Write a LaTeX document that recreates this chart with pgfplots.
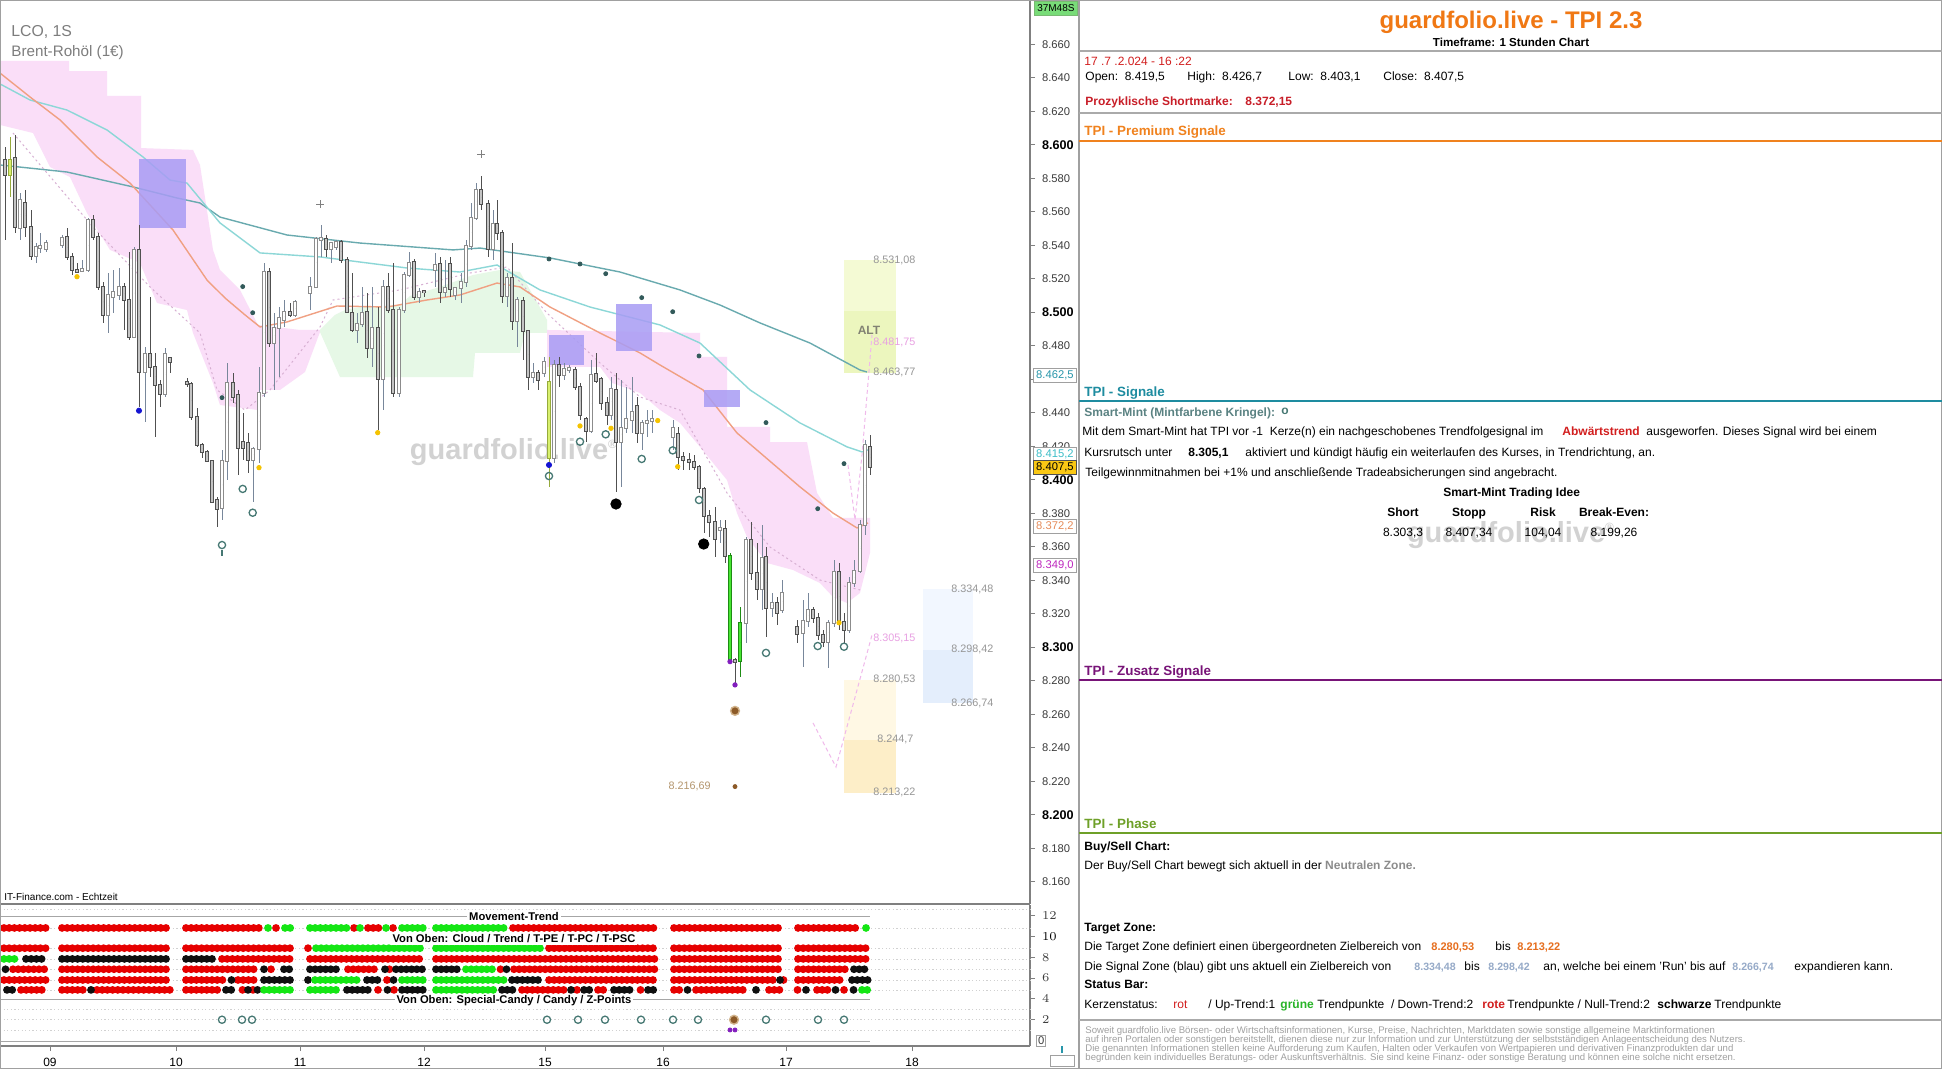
\documentclass[border=0pt]{standalone}
\usepackage{fontspec}
\setmainfont{Liberation Sans}
\usepackage{pgfplots}
\usepackage{pgfplotstable}
\pgfplotsset{compat=1.18}

\newcommand{\fsz}[1]{\fontsize{#1}{#1}\selectfont}

% colours
\definecolor{axisgray}{RGB}{128,128,128}
\definecolor{framegray}{RGB}{160,160,160}
\definecolor{ticktext}{RGB}{60,60,60}
\definecolor{cloudpink}{RGB}{250,222,248}
\definecolor{cloudgreen}{RGB}{230,248,230}
\definecolor{maorange}{RGB}{240,160,130}
\definecolor{slowteal}{RGB}{105,170,175}
\definecolor{fastcyan}{RGB}{140,215,215}
\definecolor{dotpink}{RGB}{215,175,210}
\definecolor{projpink}{RGB}{240,185,235}
\definecolor{boxpurple}{RGB}{168,156,244}
\definecolor{altyellow}{RGB}{244,250,212}
\definecolor{altyellow2}{RGB}{236,246,190}
\definecolor{tzcream}{RGB}{255,248,228}
\definecolor{tzcream2}{RGB}{253,238,200}
\definecolor{szblue}{RGB}{242,247,255}
\definecolor{szblue2}{RGB}{228,238,252}
\definecolor{bearfill}{RGB}{196,196,196}
\definecolor{bearline}{RGB}{80,80,80}
\definecolor{bullline}{RGB}{140,140,140}
\definecolor{bullwick}{RGB}{120,135,155}
\definecolor{ygfill}{RGB}{216,240,110}
\definecolor{ygline}{RGB}{150,170,60}
\definecolor{grfill}{RGB}{70,230,50}
\definecolor{grline}{RGB}{30,140,20}
\definecolor{mint}{RGB}{70,120,115}
\definecolor{mintdot}{RGB}{50,90,90}
\definecolor{signyellow}{RGB}{245,195,0}
\definecolor{signblue}{RGB}{20,20,210}
\definecolor{zbrown}{RGB}{140,90,40}
\definecolor{zbrownhalo}{RGB}{210,180,140}
\definecolor{zpurple}{RGB}{130,30,190}
\definecolor{rowred}{RGB}{230,0,0}
\definecolor{rowgreen}{RGB}{20,230,20}
\definecolor{rowblack}{RGB}{15,15,15}
\definecolor{lblgray}{RGB}{150,150,150}
\definecolor{lblpink}{RGB}{232,160,226}
\definecolor{lblbrown}{RGB}{180,150,110}
\definecolor{altgray}{RGB}{130,130,115}
\definecolor{wm}{RGB}{210,210,210}
\definecolor{lcogray}{RGB}{125,125,125}
\definecolor{tagteal}{RGB}{40,150,170}
\definecolor{tagcyan}{RGB}{60,190,200}
\definecolor{tagyellow}{RGB}{250,200,20}
\definecolor{tagorange}{RGB}{230,140,90}
\definecolor{tagmagenta}{RGB}{190,40,190}
\definecolor{taggreen}{RGB}{120,220,120}
\definecolor{titleorange}{RGB}{240,120,20}
\definecolor{datered}{RGB}{210,30,30}
\definecolor{shortred}{RGB}{200,30,40}
\definecolor{premorange}{RGB}{240,130,30}
\definecolor{sigteal}{RGB}{30,140,160}
\definecolor{mintlabel}{RGB}{90,130,130}
\definecolor{zuspurple}{RGB}{120,20,120}
\definecolor{phasegreen}{RGB}{110,160,40}
\definecolor{neutralgray}{RGB}{140,140,140}
\definecolor{tzorange}{RGB}{230,110,30}
\definecolor{szbluetext}{RGB}{150,170,200}
\definecolor{gruen}{RGB}{40,180,40}
\definecolor{rulegray}{RGB}{170,170,170}
\definecolor{disclaimer}{RGB}{160,160,160}

% hourly candles: x position, open, high, low, close
\pgfplotstableread{
x o h l c
5 8590.9 8598.6 8543.1 8581.9
15 8592.1 8605.8 8547.3 8550.9
25 8565.2 8573.0 8544.9 8550.9
31 8550.9 8561.0 8531.2 8533.6
67 8544.9 8550.3 8531.2 8533.0
72 8533.0 8535.4 8522.2 8525.2
77 8525.2 8529.4 8523.4 8524.0
93 8555.1 8558.0 8543.1 8544.9
98 8544.9 8547.3 8513.3 8515.1
103 8515.1 8518.0 8493.6 8498.4
124 8515.1 8517.4 8489.4 8507.3
129 8507.3 8536.0 8483.4 8485.2
139 8537.2 8552.1 8443.4 8464.3
150 8475.1 8509.1 8461.3 8467.3
155 8467.3 8475.7 8425.5 8456.6
160 8456.6 8459.5 8443.4 8451.2
170 8472.7 8473.3 8463.7 8470.3
187 8458.3 8460.7 8455.4 8457.1
191 8457.1 8458.3 8435.7 8437.4
197 8437.4 8442.8 8419.6 8420.7
202 8420.7 8421.9 8413.0 8416.6
207 8416.6 8417.8 8410.6 8411.2
212 8411.2 8411.8 8386.1 8386.7
217 8387.9 8389.7 8371.8 8382.5
233 8457.8 8463.7 8445.8 8449.4
238 8450.6 8453.6 8402.8 8418.9
243 8422.5 8439.8 8411.8 8418.9
248 8421.9 8427.9 8404.0 8411.8
269 8524.0 8526.4 8479.2 8481.6
290 8500.1 8505.5 8497.2 8498.4
326 8543.7 8546.1 8533.0 8537.8
341 8541.9 8543.1 8529.4 8531.2
347 8531.2 8533.0 8499.5 8500.1
352 8499.5 8523.4 8488.2 8489.4
367 8500.1 8511.5 8472.7 8478.6
378 8490.6 8503.1 8429.7 8460.1
388 8515.1 8523.4 8499.5 8501.3
393 8501.3 8529.4 8449.4 8451.8
414 8530.0 8531.8 8507.3 8509.1
424 8512.7 8513.3 8509.1 8512.1
440 8528.8 8533.0 8505.5 8512.1
450 8528.8 8533.0 8509.1 8513.9
481 8573.0 8581.3 8561.0 8564.6
488 8564.6 8567.0 8533.0 8537.8
497 8552.7 8567.0 8543.1 8547.3
502 8547.3 8549.1 8505.5 8509.7
512 8520.4 8541.3 8489.4 8494.8
523 8506.7 8509.1 8471.5 8488.8
528 8488.8 8489.4 8453.6 8461.3
538 8463.7 8465.5 8453.6 8459.5
559 8468.5 8473.3 8455.4 8462.5
575 8465.5 8467.3 8453.6 8455.4
580 8455.4 8457.8 8435.7 8438.6
586 8436.3 8437.4 8422.5 8429.1
596 8463.1 8475.7 8457.8 8458.9
601 8460.1 8461.3 8441.6 8445.8
607 8445.8 8449.4 8432.7 8438.6
616 8453.6 8463.7 8392.7 8422.5
637 8444.0 8449.4 8421.9 8427.9
678 8427.3 8431.5 8405.8 8413.6
683 8413.6 8416.6 8405.8 8411.8
689 8411.8 8416.0 8405.8 8410.6
694 8410.6 8414.8 8405.8 8407.6
699 8407.6 8408.8 8392.1 8395.1
704 8394.5 8395.7 8368.2 8378.4
709 8378.4 8381.9 8365.8 8374.8
715 8374.8 8383.7 8353.9 8364.6
725 8370.6 8376.0 8350.3 8354.5
735 8292.4 8293.6 8277.5 8291.2
751 8364.0 8374.8 8340.1 8344.3
757 8344.3 8362.2 8328.2 8334.8
766 8353.9 8359.8 8306.1 8323.4
777 8326.4 8330.0 8313.3 8320.4
797 8312.1 8316.3 8302.5 8307.9
813 8322.2 8324.0 8314.5 8317.5
818 8317.5 8320.4 8304.3 8307.3
823 8307.3 8310.3 8300.1 8303.1
839 8344.9 8350.3 8310.3 8315.1
844 8315.1 8320.4 8302.5 8310.3
870 8419.5 8426.7 8403.1 8407.5
}\bear

\pgfplotstableread{
x o h l c
20 8550.3 8571.2 8543.1 8567.0
36 8533.6 8541.3 8529.4 8538.9
40 8538.3 8547.3 8535.4 8539.5
46 8537.8 8543.1 8536.0 8541.3
62 8540.1 8546.1 8538.3 8544.3
82 8524.6 8531.2 8524.0 8525.8
88 8525.2 8556.3 8524.0 8555.1
108 8498.4 8523.4 8487.6 8510.3
113 8509.1 8525.2 8499.5 8512.1
119 8510.3 8526.4 8507.3 8515.1
134 8485.2 8538.9 8484.6 8537.2
145 8464.3 8479.2 8434.5 8475.1
165 8451.2 8478.6 8449.4 8475.1
222 8383.1 8417.8 8376.0 8411.2
227 8411.2 8469.7 8399.8 8457.8
253 8411.8 8419.6 8386.7 8418.4
259 8418.4 8467.3 8410.0 8451.8
264 8451.8 8529.4 8449.4 8524.0
274 8481.6 8499.5 8453.6 8490.6
279 8490.6 8503.1 8461.3 8496.6
284 8495.4 8507.3 8491.2 8500.1
295 8498.4 8507.3 8497.2 8506.1
310 8511.5 8521.0 8501.3 8515.1
316 8515.1 8544.9 8514.5 8543.7
321 8543.1 8552.1 8533.0 8544.3
331 8537.8 8541.9 8529.4 8541.3
336 8538.9 8543.1 8537.2 8541.9
357 8489.4 8499.5 8481.6 8493.0
362 8493.0 8515.1 8491.2 8499.5
372 8478.6 8515.1 8467.3 8490.6
383 8460.1 8519.2 8441.6 8515.1
399 8451.8 8503.1 8449.4 8501.3
404 8501.3 8524.0 8499.5 8522.2
409 8522.2 8535.9 8521.0 8529.4
419 8509.1 8514.5 8505.5 8512.1
435 8525.2 8535.4 8515.1 8528.2
445 8512.1 8531.2 8509.1 8514.5
455 8510.3 8515.1 8507.3 8514.5
461 8514.5 8523.4 8505.5 8518.0
466 8518.0 8543.1 8515.1 8539.5
471 8539.5 8565.2 8537.2 8556.3
476 8556.3 8577.1 8555.1 8573.0
493 8537.8 8561.0 8531.2 8552.7
507 8509.7 8523.4 8503.1 8520.4
517 8494.8 8509.1 8479.2 8507.3
533 8461.3 8469.7 8457.8 8463.7
544 8463.7 8473.3 8461.3 8470.3
554 8413.0 8471.5 8410.0 8468.5
564 8462.5 8469.7 8459.5 8466.1
569 8465.5 8468.5 8463.7 8466.7
591 8429.1 8471.5 8427.9 8462.5
611 8438.6 8461.3 8435.7 8454.2
621 8422.5 8459.5 8395.7 8430.9
626 8430.9 8455.4 8427.9 8436.3
632 8435.7 8461.3 8427.9 8440.4
642 8427.9 8435.7 8417.8 8433.9
647 8433.9 8441.6 8425.5 8435.1
652 8435.1 8441.6 8427.9 8436.3
673 8425.5 8435.7 8417.8 8430.9
720 8370.0 8376.0 8362.2 8371.2
746 8314.5 8365.8 8302.5 8364.0
762 8334.8 8373.0 8322.2 8353.3
772 8323.4 8332.4 8318.0 8326.4
782 8322.2 8340.1 8320.4 8332.4
803 8308.5 8328.2 8288.2 8315.7
808 8315.7 8332.4 8312.1 8322.2
828 8303.1 8316.3 8287.6 8314.5
834 8314.5 8352.1 8312.1 8344.9
849 8310.3 8341.9 8308.5 8338.3
854 8338.3 8352.1 8336.0 8345.5
860 8345.5 8376.0 8344.3 8373.0
865 8373.0 8423.7 8367.0 8420.7
}\bull

\pgfplotstableread{
x o h l c
10 8581.9 8604.6 8568.8 8590.9
549 8458.3 8473.3 8395.7 8413.0
}\ygcandles

\pgfplotstableread{
x o h l c
730 8354.5 8356.3 8291.2 8292.4
740 8291.8 8324.0 8282.2 8314.5
}\grcandles

% wick, border and body of one set of candles
\pgfplotsset{candle/.style={only marks, mark=*, mark size=0pt, mark options={draw=none, fill=none}, forget plot}}
\newcommand{\candleset}[4]{%
  \addplot[candle, error bars/.cd, y dir=both, y explicit, error mark=none,
    error bar style={line width=0.5pt, color=#4}]
    table[x=x, y expr={(\thisrow{h}+\thisrow{l})/2}, y error expr={(\thisrow{h}-\thisrow{l})/2}] {#1};
  \addplot[candle, error bars/.cd, y dir=both, y explicit, error mark=none,
    error bar style={line width=2.1pt, color=#3}]
    table[x=x, y expr={(\thisrow{o}+\thisrow{c})/2}, y error expr={abs(\thisrow{o}-\thisrow{c})/2+0.6}] {#1};
  \addplot[candle, error bars/.cd, y dir=both, y explicit, error mark=none,
    error bar style={line width=1.1pt, color=#2}]
    table[x=x, y expr={(\thisrow{o}+\thisrow{c})/2}, y error expr={abs(\thisrow{o}-\thisrow{c})/2}] {#1};
}

\begin{document}
\begin{tikzpicture}
\useasboundingbox (0pt,0pt) rectangle (971pt,-534.5pt);
\fill[white] (0pt,0pt) rectangle (971pt,-534.5pt);

% ---------------- price chart ----------------
\begin{axis}[
  at={(0pt,0pt)}, anchor=north west,
  scale only axis, width=515pt, height=452pt,
  xmin=0, xmax=1030, ymin=8146.7, ymax=8686.4,
  axis x line*=bottom, axis y line*=right,
  axis line style={draw=axisgray, line width=0.6pt},
  xtick=\empty,
  ytick={8160,8180,8220,8240,8260,8280,8320,8340,8360,8380,8420,8440,8480,8520,8540,8560,8580,8620,8640,8660},
  minor ytick={8460},
  extra y ticks={8200,8300,8400,8500,8600},
  extra y tick style={yticklabel style={font=\fsz{6.3}\bfseries, text=black}},
  yticklabel style={font=\fsz{5.6}, text=ticktext},
  tick align=outside, major tick length=2.5pt, minor tick length=2.5pt,
  tick style={draw=axisgray, line width=0.5pt},
  /pgf/number format/fixed, /pgf/number format/precision=0,
  /pgf/number format/1000 sep={.}, /pgf/number format/assume math mode=true,
]
% clouds
\addplot[fill=cloudpink, draw=none, forget plot] coordinates {
(0,8650.0)(69,8650.0)(69,8644.0)(107,8644.0)(107,8629.1)(141,8629.1)(141,8598.0)(193,8596.9)(200,8587.9)(213,8537.2)(220,8525.2)(240,8513.3)(258,8492.4)(300,8489.4)(320,8489.4)
(320,8488.2)(305,8464.3)(280,8453.6)(260,8453.6)(258,8441.6)(220,8444.6)(213,8457.8)(193,8487.6)(187,8501.3)(157,8505.5)(140,8529.4)(110,8537.2)(87,8559.2)(70,8580.7)(50,8586.7)(33,8607.0)(0,8611.8)} -- cycle;
\addplot[fill=cloudgreen, draw=none, forget plot] coordinates {
(320,8489.4)(335,8498.4)(345,8501.3)(360,8503.1)(400,8504.3)(410,8509.7)(440,8515.1)(473,8522.2)(500,8525.2)(520,8524.0)(530,8513.3)(547,8495.4)
(547,8487.6)(525,8487.6)(520,8475.7)(475,8475.7)(473,8461.3)(340,8461.3)(320,8488.2)} -- cycle;
\addplot[fill=cloudpink, draw=none, forget plot] coordinates {
(547,8489.4)(700,8487.6)(700,8473.3)(727,8473.3)(727,8431.5)(770,8431.5)(770,8422.5)(807,8422.5)(817,8392.1)(833,8377.2)(870,8377.2)
(870,8356.3)(860,8332.4)(847,8326.4)(833,8330.0)(820,8338.3)(793,8346.1)(767,8350.3)(747,8365.8)(737,8380.1)(727,8399.8)(700,8419.6)(680,8433.9)(660,8441.6)(640,8451.8)(612,8457.8)(600,8467.3)(547,8467.3)} -- cycle;

% target / signal zones
\addplot[fill=altyellow, draw=none, forget plot] coordinates {(844,8531.08)(896,8531.08)(896,8501)(844,8501)} -- cycle;
\addplot[fill=altyellow2, draw=none, forget plot] coordinates {(844,8501)(896,8501)(896,8463.77)(844,8463.77)} -- cycle;
\addplot[fill=tzcream, draw=none, forget plot] coordinates {(844,8280.53)(896,8280.53)(896,8244.7)(844,8244.7)} -- cycle;
\addplot[fill=tzcream2, draw=none, forget plot] coordinates {(844,8244.7)(896,8244.7)(896,8213.22)(844,8213.22)} -- cycle;
\addplot[fill=szblue, draw=none, forget plot] coordinates {(923,8334.48)(973,8334.48)(973,8298.42)(923,8298.42)} -- cycle;
\addplot[fill=szblue2, draw=none, forget plot] coordinates {(923,8298.42)(973,8298.42)(973,8266.74)(923,8266.74)} -- cycle;

% lines
\addplot[color=dotpink, line width=0.5pt, dash pattern=on 1pt off 1.5pt, forget plot] coordinates {
(13,8607.0)(93,8550.9)(150,8515.1)(200,8487.6)(217,8453.6)(245,8441.6)(270,8453.6)(320,8491.2)(333,8507.3)(400,8513.3)(470,8523.4)(507,8527.0)(547,8499.5)(600,8469.7)(640,8449.4)(680,8441.6)(727,8392.1)(770,8359.8)(820,8340.1)(860,8334.2)};
\addplot[color=slowteal, line width=0.7pt, forget plot] coordinates {
(0,8587.9)(67,8583.7)(133,8574.8)(177,8568.2)(200,8565.2)(220,8556.8)(287,8546.1)(360,8541.3)(453,8537.2)(480,8538.3)(550,8532.4)(620,8524.0)(680,8513.3)(720,8504.3)(760,8493.6)(810,8481.6)(860,8465.5)(867,8464.3)};
\addplot[color=fastcyan, line width=0.7pt, forget plot] coordinates {
(0,8636.3)(30,8626.7)(67,8620.7)(107,8608.8)(143,8592.7)(170,8578.9)(187,8577.1)(220,8553.3)(260,8535.4)(320,8533.0)(407,8526.4)(460,8524.0)(497,8528.2)(540,8513.3)(590,8503.1)(660,8492.4)(700,8481.6)(750,8453.6)(800,8433.9)(847,8419.6)(862,8416.6)(868,8417.8)};
\addplot[color=maorange, line width=0.7pt, forget plot] coordinates {
(0,8642.8)(30,8628.5)(60,8614.8)(97,8592.7)(130,8577.1)(173,8549.1)(207,8519.2)(225,8508.5)(245,8498.4)(260,8491.2)(287,8494.2)(337,8503.7)(387,8503.1)(427,8507.3)(460,8510.3)(497,8517.4)(520,8515.1)(550,8503.1)(600,8487.6)(640,8475.7)(660,8468.5)(703,8453.6)(737,8427.9)(800,8395.7)(833,8380.1)(857,8371.2)(868,8374.2)};
\addplot[color=projpink, line width=0.5pt, dash pattern=on 2pt off 1.5pt, forget plot] coordinates {(848,8408.8)(855,8376.0)(862,8414.8)(872,8486.4)};
\addplot[color=projpink, line width=0.5pt, dash pattern=on 2pt off 1.5pt, forget plot] coordinates {(813,8254.8)(836,8228.5)(872,8307.3)};

% signal boxes
\addplot[fill=boxpurple, fill opacity=0.85, draw=none, forget plot] coordinates {(139,8591.5)(186,8591.5)(186,8550.3)(139,8550.3)} -- cycle;
\addplot[fill=boxpurple, fill opacity=0.85, draw=none, forget plot] coordinates {(549,8486.4)(584,8486.4)(584,8468.5)(549,8468.5)} -- cycle;
\addplot[fill=boxpurple, fill opacity=0.85, draw=none, forget plot] coordinates {(616,8504.9)(652,8504.9)(652,8476.9)(616,8476.9)} -- cycle;
\addplot[fill=boxpurple, fill opacity=0.85, draw=none, forget plot] coordinates {(704,8453.6)(740,8453.6)(740,8443.4)(704,8443.4)} -- cycle;

\node[font=\fsz{14.5}\bfseries, text=wm] at (axis cs:514,8416.6) {guardfolio.live\textsuperscript{\fsz{6}®}};

% candles
\candleset{\bear}{bearfill}{bearline}{bearline}
\candleset{\bull}{white}{bullline}{bullwick}
\candleset{\ygcandles}{ygfill}{ygline}{ygline}
\candleset{\grcandles}{grfill}{grline}{grline}

% signal marks
\addplot[only marks, mark=|, mark size=1.5pt, mark options={line width=0.6pt, draw=mint}, forget plot] coordinates {(222,8356.0)};
\addplot[only marks, mark=o, mark size=1.8pt, mark options={line width=0.65pt, draw=mint}, forget plot] coordinates {
(222,8361.0)(242.7,8394.5)(252.7,8380.3)(549,8402.2)(580,8422.7)(605.7,8427.1)(641.7,8412.4)(672.7,8417.5)(699,8387.9)(766,8296.6)(817.7,8300.7)(844,8300.3)};
\addplot[only marks, mark=*, mark size=2.6pt, color=black, forget plot] coordinates {(616,8385.5)(703.7,8361.6)};
\addplot[only marks, mark=*, mark size=1.3pt, color=signblue, forget plot] coordinates {(139,8441.2)(549,8408.8)};
\addplot[only marks, mark=*, mark size=1.1pt, color=signyellow, forget plot] coordinates {
(77,8521.2)(259,8407.2)(377.7,8428.1)(580,8432.1)(611,8430.7)(657.7,8435.3)(677.7,8407.8)(839,8314.6)};
\addplot[only marks, mark=*, mark size=1.0pt, color=mintdot, forget plot] coordinates {
(222,8449.0)(242.7,8515.3)(252.7,8499.7)(549,8531.8)(580,8528.8)(605.7,8523.0)(641.7,8508.7)(672.7,8500.3)(699,8473.9)(766,8434.1)(817.7,8382.7)(844,8409.6)};
\addplot[only marks, mark=+, mark size=2pt, mark options={line width=0.4pt}, color=axisgray, forget plot] coordinates {(320,8564.6)(481,8594.4)};
\addplot[only marks, mark=*, mark size=2.2pt, mark options={fill=zbrown, draw=zbrownhalo, line width=0.7pt}, forget plot] coordinates {(735,8262.0)};
\addplot[only marks, mark=*, mark size=1.0pt, color=zbrown, forget plot] coordinates {(735,8216.8)};
\addplot[only marks, mark=*, mark size=1.1pt, color=zpurple, forget plot] coordinates {(730,8291.4)(735,8277.5)};

% zone labels
\node[anchor=west, inner sep=0pt, font=\fsz{5.4}, text=lblgray] at (axis cs:873,8531.08) {8.531,08};
\node[inner sep=0pt, font=\fsz{6}\bfseries, text=altgray] at (axis cs:869,8489) {ALT};
\node[anchor=west, inner sep=0pt, font=\fsz{5.4}, text=lblpink] at (axis cs:873,8481.75) {8.481,75};
\node[anchor=west, inner sep=0pt, font=\fsz{5.4}, text=lblgray] at (axis cs:873,8463.77) {8.463,77};
\node[anchor=west, inner sep=0pt, font=\fsz{5.4}, text=lblpink] at (axis cs:873,8305.15) {8.305,15};
\node[anchor=west, inner sep=0pt, font=\fsz{5.4}, text=lblgray] at (axis cs:873,8280.53) {8.280,53};
\node[anchor=west, inner sep=0pt, font=\fsz{5.4}, text=lblgray] at (axis cs:877,8244.7) {8.244,7};
\node[anchor=west, inner sep=0pt, font=\fsz{5.4}, text=lblgray] at (axis cs:873,8213.22) {8.213,22};
\node[anchor=east, inner sep=0pt, font=\fsz{5.4}, text=lblbrown] at (axis cs:711,8216.69) {8.216,69};
\node[anchor=west, inner sep=0pt, font=\fsz{5.4}, text=lblgray] at (axis cs:951,8334.48) {8.334,48};
\node[anchor=west, inner sep=0pt, font=\fsz{5.4}, text=lblgray] at (axis cs:951,8298.42) {8.298,42};
\node[anchor=west, inner sep=0pt, font=\fsz{5.4}, text=lblgray] at (axis cs:951,8266.74) {8.266,74};
\end{axis}

% ---------------- status bar ----------------
\begin{axis}[
  at={(0pt,-452.5pt)}, anchor=north west,
  scale only axis, width=515pt, height=70.5pt,
  xmin=0, xmax=1030, ymin=-0.52, ymax=13.0,
  axis x line*=bottom, axis y line*=right,
  axis line style={draw=axisgray, line width=0.6pt},
  xtick={50,176,300,424,545,663,786,912},
  xticklabels={09,10,11,12,15,16,17,18},
  xticklabel style={font=\fsz{6}, text=black},
  ytick={2,4,6,8,12},
  extra y ticks={10},
  extra y tick style={yticklabel style={font=\fsz{6.3}\bfseries, text=black}},
  yticklabel style={font=\fsz{5.6}, text=ticktext},
  tick align=outside, major tick length=2.5pt,
  tick style={draw=axisgray, line width=0.5pt},
  unbounded coords=jump, clip=false,
  rowdots/.style={line width=3.9pt, line cap=round, dash pattern=on 0pt off 2.6pt, forget plot},
]
\addplot[color=black!18, line width=0.4pt, dash pattern=on 0.6pt off 1.2pt, forget plot] coordinates {
(0,12.6)(1030,12.6)(0,nan)(0,10.8)(1030,10.8)(0,nan)(0,8.86)(1030,8.86)(0,nan)(0,7.83)(1030,7.83)(0,nan)(0,6.84)(1030,6.84)(0,nan)(0,5.81)(1030,5.81)(0,nan)(0,4.86)(1030,4.86)(0,nan)(0,3.0)(1030,3.0)(0,nan)(0,2.0)(1030,2.0)(0,nan)(0,1.0)(1030,1.0)};
\addplot[color=black!35, line width=0.6pt, forget plot] coordinates {(0,11.86)(870,11.86)(0,nan)(0,3.96)(870,3.96)(0,nan)(0,-0.1)(870,-0.1)};

% Movement-Trend
\addplot[rowdots, color=rowred] coordinates {(4,10.8)(46,10.8)(0,nan)(62,10.8)(170,10.8)(0,nan)(186,10.8)(261,10.8)(0,nan)(276,10.8)(277,10.8)(0,nan)(354,10.8)(355,10.8)(0,nan)(368,10.8)(380,10.8)(0,nan)(393,10.8)(394,10.8)(0,nan)(513,10.8)(656,10.8)(0,nan)(674,10.8)(782,10.8)(0,nan)(798,10.8)(858,10.8)};
\addplot[rowdots, color=rowgreen] coordinates {(268,10.8)(269,10.8)(0,nan)(285,10.8)(294,10.8)(0,nan)(310,10.8)(348,10.8)(0,nan)(360,10.8)(361,10.8)(0,nan)(386,10.8)(387,10.8)(0,nan)(402,10.8)(423,10.8)(0,nan)(436,10.8)(505,10.8)(0,nan)(866,10.8)(868,10.8)};
% Cloud
\addplot[rowdots, color=rowred] coordinates {(4,8.86)(46,8.86)(0,nan)(62,8.86)(170,8.86)(0,nan)(186,8.86)(294,8.86)(0,nan)(308,8.86)(310,8.86)(0,nan)(549,8.86)(656,8.86)(0,nan)(674,8.86)(782,8.86)(0,nan)(798,8.86)(868,8.86)};
\addplot[rowdots, color=rowgreen] coordinates {(316,8.86)(423,8.86)(0,nan)(436,8.86)(541,8.86)};
% Trend
\addplot[rowdots, color=rowgreen] coordinates {(4,7.83)(18,7.83)};
\addplot[rowdots, color=rowblack] coordinates {(26,7.83)(46,7.83)(0,nan)(62,7.83)(170,7.83)(0,nan)(186,7.83)(214,7.83)};
\addplot[rowdots, color=rowred] coordinates {(222,7.83)(294,7.83)(0,nan)(310,7.83)(423,7.83)(0,nan)(436,7.83)(656,7.83)(0,nan)(674,7.83)(782,7.83)(0,nan)(798,7.83)(868,7.83)};
% T-PE
\addplot[rowdots, color=rowred] coordinates {(13,6.84)(46,6.84)(0,nan)(62,6.84)(170,6.84)(0,nan)(186,6.84)(258,6.84)(0,nan)(271,6.84)(276,6.84)(0,nan)(348,6.84)(379,6.84)(0,nan)(389.5,6.84)(390.5,6.84)(0,nan)(500.5,6.84)(501.5,6.84)(0,nan)(514,6.84)(656,6.84)(0,nan)(674,6.84)(782,6.84)(0,nan)(798,6.84)(846,6.84)};
\addplot[rowdots, color=rowblack] coordinates {(5.5,6.84)(6.5,6.84)(0,nan)(264,6.84)(265,6.84)(0,nan)(284,6.84)(294,6.84)(0,nan)(310,6.84)(340,6.84)(0,nan)(385,6.84)(386,6.84)(0,nan)(396,6.84)(423,6.84)(0,nan)(436,6.84)(458,6.84)(0,nan)(506.5,6.84)(507.5,6.84)(0,nan)(854,6.84)(868,6.84)};
\addplot[rowdots, color=rowgreen] coordinates {(466,6.84)(494,6.84)};
% T-PC
\addplot[rowdots, color=rowred] coordinates {(4,5.81)(46,5.81)(0,nan)(62,5.81)(170,5.81)(0,nan)(186,5.81)(226,5.81)(0,nan)(238,5.81)(256,5.81)(0,nan)(387,5.81)(388,5.81)(0,nan)(549,5.81)(656,5.81)(0,nan)(674,5.81)(775,5.81)(0,nan)(783.5,5.81)(784.5,5.81)(0,nan)(798,5.81)(844,5.81)};
\addplot[rowdots, color=rowblack] coordinates {(231.5,5.81)(232.5,5.81)(0,nan)(264,5.81)(294,5.81)(0,nan)(308,5.81)(309,5.81)(0,nan)(367,5.81)(381,5.81)(0,nan)(393.5,5.81)(394.5,5.81)(0,nan)(512,5.81)(541,5.81)(0,nan)(780,5.81)(781,5.81)(0,nan)(852,5.81)(868,5.81)};
\addplot[rowdots, color=rowgreen] coordinates {(315,5.81)(359,5.81)(0,nan)(402,5.81)(423,5.81)(0,nan)(436,5.81)(504,5.81)};
% T-PSC
\addplot[rowdots, color=rowred] coordinates {(21,4.86)(46,4.86)(0,nan)(62,4.86)(86,4.86)(0,nan)(97,4.86)(170,4.86)(0,nan)(186,4.86)(218,4.86)(0,nan)(242.5,4.86)(243.5,4.86)(0,nan)(253,4.86)(254,4.86)(0,nan)(378,4.86)(381,4.86)(0,nan)(394,4.86)(395,4.86)(0,nan)(522,4.86)(564,4.86)(0,nan)(577,4.86)(578,4.86)(0,nan)(598,4.86)(606,4.86)(0,nan)(640.5,4.86)(641.5,4.86)(0,nan)(674,4.86)(680,4.86)(0,nan)(696,4.86)(748,4.86)(0,nan)(769,4.86)(782,4.86)(0,nan)(797.5,4.86)(798.5,4.86)(0,nan)(817,4.86)(828,4.86)(0,nan)(844,4.86)(846,4.86)};
\addplot[rowdots, color=rowblack] coordinates {(7,4.86)(13,4.86)(0,nan)(91,4.86)(92,4.86)(0,nan)(226,4.86)(236,4.86)(0,nan)(248,4.86)(249,4.86)(0,nan)(257.5,4.86)(258.5,4.86)(0,nan)(347,4.86)(370,4.86)(0,nan)(387.5,4.86)(388.5,4.86)(0,nan)(402,4.86)(423,4.86)(0,nan)(502,4.86)(514,4.86)(0,nan)(571,4.86)(572,4.86)(0,nan)(584,4.86)(590,4.86)(0,nan)(614,4.86)(634,4.86)(0,nan)(648,4.86)(656,4.86)(0,nan)(687.5,4.86)(688.5,4.86)(0,nan)(756,4.86)(761,4.86)(0,nan)(806,4.86)(809,4.86)(0,nan)(835.5,4.86)(836.5,4.86)(0,nan)(853.5,4.86)(854.5,4.86)};
\addplot[rowdots, color=rowgreen] coordinates {(264,4.86)(294,4.86)(0,nan)(310,4.86)(339,4.86)(0,nan)(436,4.86)(494,4.86)(0,nan)(862,4.86)(868,4.86)};

% Special-Candy / Candy / Z-Points
\addplot[only marks, mark=o, mark size=1.8pt, mark options={line width=0.65pt, draw=mint}, forget plot] coordinates {
(222,2)(242,2)(252,2)(547,2)(578,2)(605,2)(641,2)(673,2)(698,2)(766,2)(818,2)(844,2)};
\addplot[only marks, mark=*, mark size=2.2pt, mark options={fill=zbrown, draw=zbrownhalo, line width=0.7pt}, forget plot] coordinates {(734,2)};
\addplot[only marks, mark=*, mark size=1.0pt, color=zpurple, forget plot] coordinates {(730,1.02)(735,1.02)};

\node[fill=white, inner sep=1pt, font=\fsz{5.6}\bfseries] at (axis cs:514,11.86) {Movement-Trend};
\node[fill=white, inner sep=1pt, font=\fsz{5.6}\bfseries] at (axis cs:514,9.76) {Von Oben: Cloud / Trend / T-PE / T-PC / T-PSC};
\node[fill=white, inner sep=1pt, font=\fsz{5.6}\bfseries] at (axis cs:514,3.8) {Von Oben: Special-Candy / Candy / Z-Points};
\end{axis}

% ---------------- page furniture and text panel ----------------
\begin{scope}[x=0.5pt,y=-0.5pt]
\draw[line width=0.6pt, color=framegray] (0.5,0.5) rectangle (1941.5,1068.5);
\draw[line width=0.6pt, color=framegray] (1079,0) -- (1079,1069);

\node[anchor=west, inner sep=0pt, font=\fsz{7.9}, text=lcogray] at (11,32) {LCO, 1S};
\node[anchor=west, inner sep=0pt, font=\fsz{7.6}, text=lcogray] at (11,53) {Brent-Rohöl (1€)};
\node[anchor=west, inner sep=0pt, font=\fsz{5}] at (4,897) {IT-Finance.com - Echtzeit};

% axis price tags
\tikzset{tag/.style={anchor=west, draw=framegray, fill=white, inner sep=0pt, minimum width=21.5pt, minimum height=7pt, font=\fsz{5.6}}}
\node[anchor=north west, fill=taggreen, draw=grline!60, inner sep=0pt, minimum width=21.5pt, minimum height=7pt, font=\fsz{5}] at (1034,1) {37M48S};
\node[tag, text=tagteal] at (1033,375.0) {8.462,5};
\node[tag, text=tagcyan] at (1033,454.3) {8.415,2};
\node[tag, fill=tagyellow, draw=bearline, text=black] at (1033,467.2) {8.407,5};
\node[tag, text=tagorange] at (1033,526.3) {8.372,2};
\node[tag, text=tagmagenta] at (1033,565.2) {8.349,0};
\node[anchor=west, draw=framegray, inner sep=0.8pt, font=\fsz{5.6}, text=ticktext] at (1036,1040.6) {0};
\draw[framegray, line width=0.5pt] (1050,1055) rectangle (1074,1066);
\draw[tagteal, line width=0.8pt] (1062,1053) -- (1062,1046);

% text panel
\tikzset{rt/.style={anchor=base west, inner sep=0pt, font=\fsz{6}}}
\node[anchor=base, inner sep=0pt, font=\fsz{12}\bfseries, text=titleorange] at (1511,29) {guardfolio.live - TPI 2.3};
\node[anchor=base, inner sep=0pt, font=\fsz{5.8}\bfseries] at (1511,46.5) {Timeframe: 1 Stunden Chart};
\draw[rulegray, line width=0.8pt] (1079,51) -- (1942,51);
\node[rt, text=datered] at (1084,66) {17 .7 .2.024 - 16 :22};
\node[rt] at (1085,81) {Open:\ \ 8.419,5};
\node[rt] at (1187,81) {High:\ \ 8.426,7};
\node[rt] at (1288,81) {Low:\ \ 8.403,1};
\node[rt] at (1383,81) {Close:\ \ 8.407,5};
\node[rt, font=\fsz{6}\bfseries, text=shortred] at (1085,106) {Prozyklische Shortmarke:};
\node[rt, font=\fsz{6}\bfseries, text=shortred] at (1245,106) {8.372,15};
\draw[rulegray, line width=0.6pt] (1079,113) -- (1942,113);

\node[rt, font=\fsz{6.7}\bfseries, text=premorange] at (1084,136) {TPI - Premium Signale};
\draw[premorange, line width=1pt] (1079,141) -- (1942,141);

\node[rt, font=\fsz{6.7}\bfseries, text=sigteal] at (1084,396) {TPI - Signale};
\draw[sigteal, line width=1pt] (1079,401) -- (1942,401);
\node[rt, font=\fsz{6}\bfseries, text=mintlabel] at (1084,416) {Smart-Mint (Mintfarbene Kringel):};
\node[rt, font=\fsz{6}\bfseries, text=mint] at (1281,415) {o};
\node[rt] at (1082,436) {Mit dem Smart-Mint hat TPI vor -1\ \ Kerze(n) ein nachgeschobenes Trendfolgesignal im};
\node[rt, font=\fsz{6}\bfseries, text=datered] at (1562,436) {Abwärtstrend};
\node[rt] at (1646,436) {ausgeworfen. Dieses Signal wird bei einem};
\node[rt] at (1084,456) {Kursrutsch unter};
\node[rt, font=\fsz{6}\bfseries] at (1188,456) {8.305,1};
\node[rt] at (1245,456) {aktiviert und kündigt häufig ein weiterlaufen des Kurses, in Trendrichtung, an.};
\node[rt] at (1085,476) {Teilgewinnmitnahmen bei +1\% und anschließende Tradeabsicherungen sind angebracht.};
\node[font=\fsz{14.5}\bfseries, text=wm] at (1511,535) {guardfolio.live\textsuperscript{\fsz{6}®}};
\node[anchor=base, inner sep=0pt, font=\fsz{6}\bfseries] at (1511.6,496) {Smart-Mint Trading Idee};
\node[anchor=base, inner sep=0pt, font=\fsz{6}\bfseries] at (1403,516) {Short};
\node[anchor=base, inner sep=0pt, font=\fsz{6}\bfseries] at (1469,516) {Stopp};
\node[anchor=base, inner sep=0pt, font=\fsz{6}\bfseries] at (1543,516) {Risk};
\node[anchor=base, inner sep=0pt, font=\fsz{6}\bfseries] at (1614,516) {Break-Even:};
\node[anchor=base, inner sep=0pt, font=\fsz{6}] at (1403,536) {8.303,3};
\node[anchor=base, inner sep=0pt, font=\fsz{6}] at (1469,536) {8.407,34};
\node[anchor=base, inner sep=0pt, font=\fsz{6}] at (1543,536) {104,04};
\node[anchor=base, inner sep=0pt, font=\fsz{6}] at (1614,536) {8.199,26};

\node[rt, font=\fsz{6.7}\bfseries, text=zuspurple] at (1084,675) {TPI - Zusatz Signale};
\draw[zuspurple, line width=1pt] (1079,680) -- (1942,680);

\node[rt, font=\fsz{6.7}\bfseries, text=phasegreen] at (1084,828) {TPI - Phase};
\draw[phasegreen, line width=1pt] (1079,833) -- (1942,833);
\node[rt, font=\fsz{6}\bfseries] at (1084,850) {Buy/Sell Chart:};
\node[rt] at (1084,869) {Der Buy/Sell Chart bewegt sich aktuell in der \textcolor{neutralgray}{\bfseries Neutralen Zone.}};
\node[rt, font=\fsz{6}\bfseries] at (1084,931) {Target Zone:};
\node[rt] at (1084,950) {Die Target Zone definiert einen übergeordneten Zielbereich von};
\node[rt, font=\fsz{5.5}\bfseries, text=tzorange] at (1431,950) {8.280,53};
\node[rt] at (1495,950) {bis};
\node[rt, font=\fsz{5.5}\bfseries, text=tzorange] at (1517,950) {8.213,22};
\node[rt] at (1084,970) {Die Signal Zone (blau) gibt uns aktuell ein Zielbereich von};
\node[rt, font=\fsz{5.3}\bfseries, text=szbluetext] at (1414,970) {8.334,48};
\node[rt] at (1464,970) {bis};
\node[rt, font=\fsz{5.3}\bfseries, text=szbluetext] at (1488,970) {8.298,42};
\node[rt] at (1543,970) {an, welche bei einem 'Run' bis auf};
\node[rt, font=\fsz{5.3}\bfseries, text=szbluetext] at (1732,970) {8.266,74};
\node[rt] at (1794,970) {expandieren kann.};
\node[rt, font=\fsz{6}\bfseries] at (1084,988) {Status Bar:};
\node[rt] at (1084,1008) {Kerzenstatus:};
\node[rt, text=datered] at (1173,1008) {rot};
\node[rt] at (1208,1008) {/ Up-Trend:1};
\node[rt, font=\fsz{6}\bfseries, text=gruen] at (1280,1008) {grüne};
\node[rt] at (1317,1008) {Trendpunkte\ \ / Down-Trend:2};
\node[rt, font=\fsz{6}\bfseries, text=datered] at (1482,1008) {rote};
\node[rt] at (1507,1008) {Trendpunkte / Null-Trend:2};
\node[rt, font=\fsz{6}\bfseries] at (1657,1008) {schwarze};
\node[rt] at (1714,1008) {Trendpunkte};
\draw[rulegray, line width=0.6pt] (1079,1020) -- (1942,1020);
\node[rt, font=\fsz{4.8}, text=disclaimer] at (1085,1033) {Soweit guardfolio.live Börsen- oder Wirtschaftsinformationen, Kurse, Preise, Nachrichten, Marktdaten sowie sonstige allgemeine Marktinformationen};
\node[rt, font=\fsz{4.8}, text=disclaimer] at (1085,1042.3) {auf ihren Portalen oder sonstigen bereitstellt, dienen diese nur zur Information und zur Unterstützung der selbstständigen Anlageentscheidung des Nutzers.};
\node[rt, font=\fsz{4.8}, text=disclaimer] at (1085,1051.3) {Die genannten Informationen stellen keine Aufforderung zum Kaufen, Halten oder Verkaufen von Wertpapieren und derivativen Finanzprodukten dar und};
\node[rt, font=\fsz{4.8}, text=disclaimer] at (1085,1060.3) {begründen kein individuelles Beratungs- oder Auskunftsverhältnis. Sie sind keine Finanz- oder sonstige Beratung und können eine solche nicht ersetzen.};
\end{scope}
\end{tikzpicture}
\end{document}
